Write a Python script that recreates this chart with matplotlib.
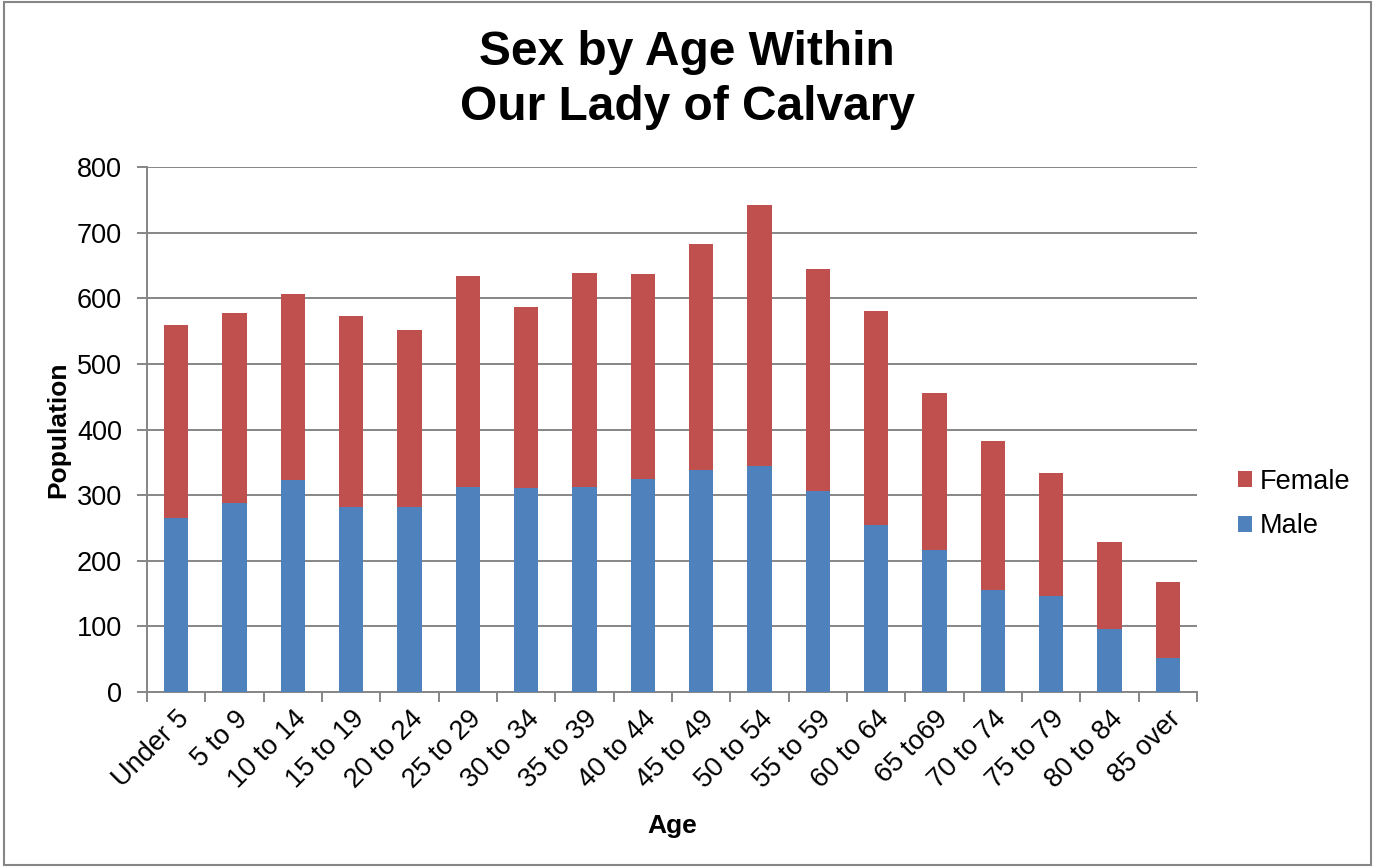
import numpy as np
import matplotlib.pyplot as plt
from matplotlib.patches import Rectangle

plt.rcParams['font.family'] = ['Liberation Sans', 'DejaVu Sans']

# Age groups and population counts
ages = ["Under 5", "5 to 9", "10 to 14", "15 to 19", "20 to 24", "25 to 29",
        "30 to 34", "35 to 39", "40 to 44", "45 to 49", "50 to 54", "55 to 59",
        "60 to 64", "65 to69", "70 to 74", "75 to 79", "80 to 84", "85 over"]
male = [265, 288, 323, 282, 282, 313, 311, 313, 325, 338, 344, 306,
        255, 217, 156, 147, 96, 52]
total = [560, 578, 606, 573, 552, 634, 587, 638, 637, 682, 742, 644,
         580, 456, 382, 334, 229, 167]
female = [t - m for t, m in zip(total, male)]

blue = "#4F81BD"
red = "#C0504D"
grid_gray = "#868686"

fig = plt.figure(figsize=(13.74, 8.67), dpi=100)
ax = fig.add_axes([147 / 1374, 1 - 692 / 867, (1197 - 147) / 1374, (692 - 167) / 867])

x = np.arange(len(ages))
ax.bar(x, male, width=0.42, color=blue, label="Male", zorder=3)
ax.bar(x, female, width=0.42, bottom=male, color=red, label="Female", zorder=3)

ax.set_xlim(-0.5, len(ages) - 0.5)
ax.set_ylim(0, 800)
ax.set_yticks(range(0, 801, 100))
ax.yaxis.grid(True, color=grid_gray, linewidth=1.4, zorder=0)

# category labels centred, ticks at category boundaries
ax.set_xticks(x)
ax.set_xticklabels(ages, rotation=45, ha="right", rotation_mode="anchor", fontsize=19.5)
ax.set_xticks(np.arange(-0.5, len(ages)), minor=True)
ax.tick_params(axis="x", which="major", length=0, pad=10)
ax.tick_params(axis="x", which="minor", length=7, width=1.4, color=grid_gray)
ax.tick_params(axis="y", length=7, width=1.4, color=grid_gray, labelsize=19.5, pad=11)

for side in ["top", "right"]:
    ax.spines[side].set_visible(False)
for side in ["left", "bottom"]:
    ax.spines[side].set_color(grid_gray)
    ax.spines[side].set_linewidth(1.4)

ax.set_xlabel("Age", fontsize=19, fontweight="bold", labelpad=15)
ax.set_ylabel("Population", fontsize=19, fontweight="bold", labelpad=5)

fig.text(0.5, 1 - 80 / 867, "Sex by Age Within\nOur Lady of Calvary",
         ha="center", va="center", fontsize=34.5, fontweight="bold", linespacing=1.28)

handles, labels = ax.get_legend_handles_labels()
leg = fig.legend(handles[::-1], labels[::-1], loc="center left",
                 bbox_to_anchor=(1214 / 1374, 1 - 504 / 867), frameon=False,
                 fontsize=19.5, handlelength=0.52, handleheight=0.52,
                 handletextpad=0.26, labelspacing=0.7)

# outer chart border
fig.patches.append(Rectangle((4 / 1374, 2 / 867), 1 - 7 / 1374, 1 - 4 / 867,
                             transform=fig.transFigure, fill=False,
                             edgecolor=grid_gray, linewidth=1.5))

fig.savefig("out.png", dpi=100)
